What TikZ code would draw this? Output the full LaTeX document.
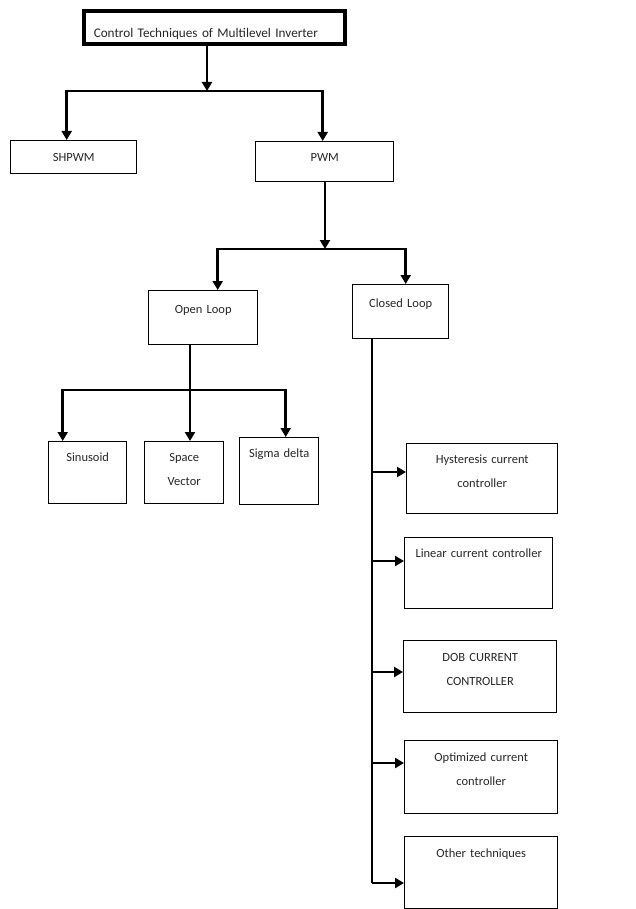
\documentclass[tikz,border=0pt]{standalone}
\usepackage{fontspec}
\setmainfont{Carlito}
\usetikzlibrary{arrows.meta}

\tikzset{
  blk/.style={draw, line width=1.4pt, inner xsep=0pt, inner ysep=0pt,
    anchor=north west, text width=#1, align=center, text=black!85,
    font=\fontsize{12.5}{24}\selectfont},
  wire/.style={line width=2.6pt},
  arr/.style={wire, -{Triangle[length=9pt,width=10pt]}},
}

\begin{document}
\begin{tikzpicture}[x=1pt, y=-1pt]
\useasboundingbox (0,0) rectangle (636,909);

% blocks
\node[blk=241pt, line width=3.5pt, inner xsep=10pt, align=left,
  text height=26.5pt, text depth=6.5pt, font=\fontsize{13.2}{16}\selectfont] (cti) at (82,9.5)
  {Control Techniques of Multilevel Inverter};
\node[blk=126pt, text height=21pt, text depth=12pt] (shp) at (10,140) {SHPWM};
\node[blk=138pt, text height=20pt, text depth=20pt] (pwm) at (255,141) {PWM};
\node[blk=109pt, text height=23pt, text depth=31pt] (open) at (148,290) {Open Loop};
\node[blk=96pt, text height=23pt, text depth=31pt] (closed) at (352,284) {Closed Loop};
\node[blk=78pt, text height=20pt, text depth=42pt] (sin) at (48,441) {Sinusoid};
\node[blk=79pt, text height=20pt, text depth=42pt] (sv) at (144,441) {Space\\Vector};
\node[blk=79pt, text height=20pt, text depth=47pt] (sig) at (239,437) {Sigma delta};
\node[blk=151pt, text height=20pt, text depth=50pt] (hys) at (406,443) {Hysteresis current\\controller};
\node[blk=148pt, text height=20pt, text depth=51pt] (lin) at (404,537) {Linear current controller};
\node[blk=153pt, text height=21pt, text depth=51pt] (dob) at (403,640) {DOB CURRENT\\CONTROLLER};
\node[blk=153pt, text height=21pt, text depth=52pt] (opt) at (404,740) {Optimized current\\controller};
\node[blk=153pt, text height=21pt, text depth=50.5pt] (oth) at (404,836) {Other techniques};

% junctions
\coordinate (b1) at (207,91);
\coordinate (b2) at (325,249);
\coordinate (b3) at (190,390);
\coordinate (t) at (372,0);
\coordinate (h1) at (372,472);
\coordinate (h2) at (372,561);
\coordinate (h3) at (372,672);
\coordinate (h4) at (372,763);
\coordinate (h5) at (372,883);

% top level
\draw[arr] (cti.south -| b1) -- (b1);
\draw[arr] (b1) -| ([xshift=-7pt]shp.north);
\draw[arr] (b1) -| ([xshift=-2pt]pwm.north);

% pwm
\draw[arr] (pwm.south -| b2) -- (b2);
\draw[arr] (b2) -| ([xshift=14.5pt]open.north);
\draw[arr] (b2) -| ([xshift=5pt]closed.north);

% open loop
\draw[arr] (open.south -| b3) -- (sv.north -| b3);
\draw[arr] (b3) -| ([xshift=-25pt]sin.north);
\draw[arr] (b3) -| ([xshift=6.5pt]sig.north);

% closed loop
\draw[wire] (closed.south -| t) -- (h5);
\draw[arr] (h1) -- (h1 -| hys.west);
\draw[arr] (h2) -- (h2 -| lin.west);
\draw[arr] (h3) -- (h3 -| dob.west);
\draw[arr] (h4) -- (h4 -| opt.west);
\draw[arr] (h5) -- (h5 -| oth.west);
\end{tikzpicture}
\end{document}
